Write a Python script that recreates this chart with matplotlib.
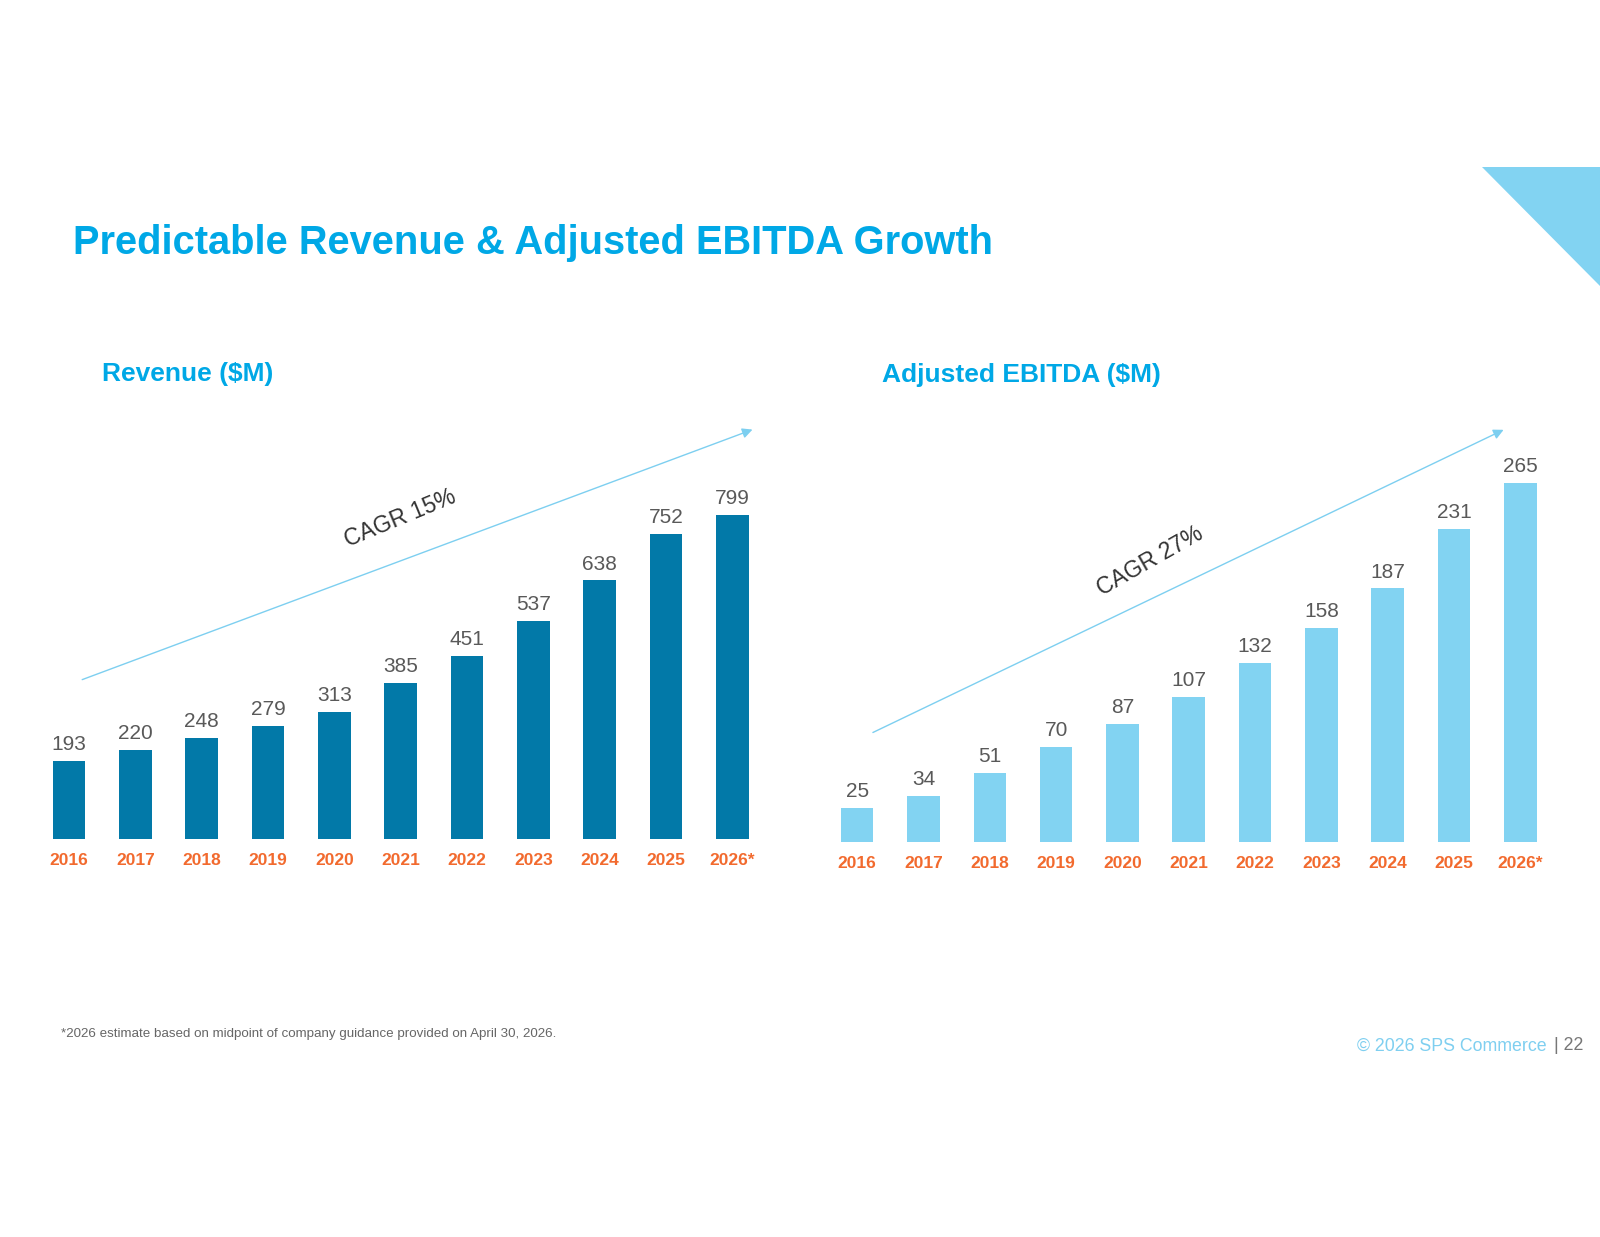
import matplotlib
matplotlib.use("Agg")
from matplotlib import pyplot as plt
from matplotlib.patches import Polygon
import numpy as np

plt.rcParams['font.family'] = ['Liberation Sans', 'DejaVu Sans']

# Datos
anios = ["2016", "2017", "2018", "2019", "2020", "2021", "2022", "2023", "2024", "2025", "2026*"]
ingresos = [193, 220, 248, 279, 313, 385, 451, 537, 638, 752, 799]
ebitda = [25, 34, 51, 70, 87, 107, 132, 158, 187, 231, 265]

AZUL_TITULO = "#00A8E6"
AZUL_OSCURO = "#0279A8"
AZUL_CLARO = "#82D3F2"
NARANJA = "#F26A2E"
GRIS = "#595959"

W, H = 1600, 1237
fig = plt.figure(figsize=(W / 100, H / 100), dpi=100)


# Pasa de pixeles (origen arriba-izquierda) a fracción de figura
def fx(x):
    return x / W


def fy(y):
    return 1 - y / H


# Crea un eje de barras: centro de la primera barra, paso, línea base y escala en px
def barras(ax_x0, ax_top, paso, base, px_por_unidad, valores, color, y_ticks):
    xmin, xmax = -0.6, 10.6
    ancho = (xmax - xmin) * paso
    izq = ax_x0 + xmin * paso
    alto = base - ax_top
    ax = fig.add_axes([fx(izq), fy(base), ancho / W, alto / H])
    ax.bar(np.arange(len(valores)), valores, width=0.49, color=color)
    ax.set_xlim(xmin, xmax)
    ax.set_ylim(0, alto / px_por_unidad)
    ax.set_xticks(np.arange(len(anios)))
    ax.set_xticklabels(anios, color=NARANJA, fontsize=12.5, fontweight="bold")
    ax.tick_params(axis="x", length=0, pad=y_ticks)
    ax.set_yticks([])
    for s in ax.spines.values():
        s.set_visible(False)
    for i, v in enumerate(valores):
        ax.annotate(str(v), (i, v), xytext=(0, 5), textcoords="offset points",
                    ha="center", va="bottom", fontsize=15, color=GRIS)
    ax.patch.set_alpha(0)
    return ax


ax1 = barras(69.0, 400, 66.33, 838.8, 323.5 / 799, ingresos, AZUL_OSCURO, 10)
ax2 = barras(857.1, 400, 66.33, 841.8, 359.0 / 265, ebitda, AZUL_CLARO, 10)


# Flechas de CAGR
def flecha(p0, p1, texto, pos_txt, extra=0):
    fig.add_artist(matplotlib.patches.FancyArrowPatch(
        (fx(p0[0]), fy(p0[1])), (fx(p1[0]), fy(p1[1])), transform=fig.transFigure,
        arrowstyle="-|>,head_length=6,head_width=3", color="#7DCFF0", lw=1.0))
    ang = np.degrees(np.arctan2(p0[1] - p1[1], p1[0] - p0[0])) + extra
    fig.text(fx(pos_txt[0]), fy(pos_txt[1]), texto, rotation=ang, rotation_mode="anchor",
             ha="center", va="center", fontsize=16.5, color="#333333")


flecha((79.6, 680.6), (755.1, 428.6), "CAGR 15%", (400, 518), extra=2)
flecha((870.4, 733.7), (1506.1, 428.6), "CAGR 27%", (1150, 561), extra=4)

# Triángulo decorativo
fig.add_artist(Polygon([(fx(1481.6), fy(167.3)), (fx(1600), fy(167.3)), (fx(1600), fy(285.7))],
                       closed=True, transform=fig.transFigure, color=AZUL_CLARO, lw=0))

# Textos
fig.text(fx(73), fy(243), "Predictable Revenue & Adjusted EBITDA Growth", fontsize=28.7,
         fontweight="bold", color=AZUL_TITULO, va="center", ha="left")
fig.text(fx(102), fy(374), "Revenue ($M)", fontsize=19, fontweight="bold",
         color=AZUL_TITULO, va="center", ha="left")
fig.text(fx(882), fy(375), "Adjusted EBITDA ($M)", fontsize=19, fontweight="bold",
         color=AZUL_TITULO, va="center", ha="left")
fig.text(fx(61), fy(1034), "*2026 estimate based on midpoint of company guidance provided on April 30, 2026.",
         fontsize=9.6, color="#666666", va="center", ha="left")
fig.text(fx(1547), fy(1046), "© 2026 SPS Commerce", fontsize=12.8, color="#7FCFF0",
         va="center", ha="right")
fig.text(fx(1583), fy(1046), "| 22", fontsize=12.8, color="#777777", va="center", ha="right")

fig.savefig("out.png", dpi=100)
